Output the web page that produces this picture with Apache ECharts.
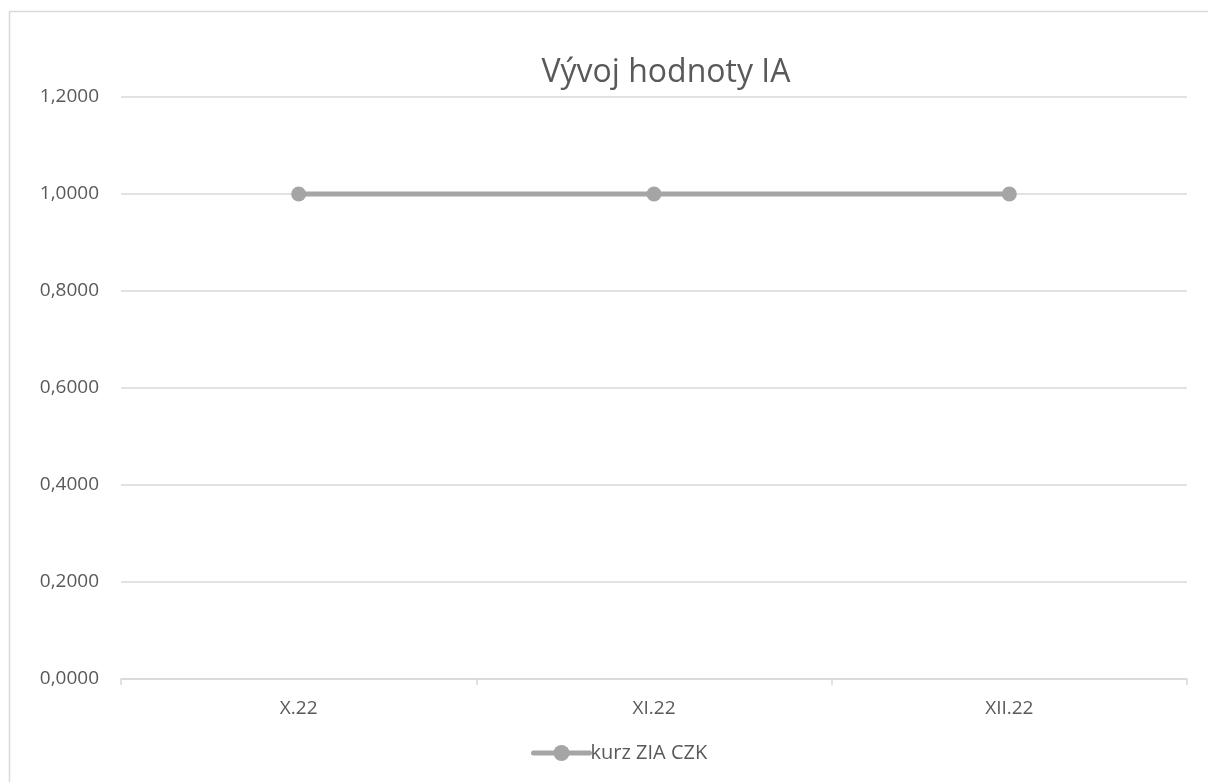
<!DOCTYPE html>
<html><head><meta charset="utf-8">
<script src="https://cdn.jsdelivr.net/npm/echarts@6/dist/echarts.min.js"></script>
<style>html,body{margin:0;padding:0;background:#fff}#c{width:1208px;height:782px}</style>
</head><body><div id="c"></div>
<script>
const categories = ['X.22', 'XI.22', 'XII.22'];
const seriesName = 'kurz ZIA CZK';
const values = [1.0, 1.0, 1.0];
const yTicks = {min: 0, max: 1.2, interval: 0.2};
const titleText = 'Vývoj hodnoty IA';

const font = 'Open Sans';
const chart = echarts.init(document.getElementById('c'));
chart.setOption({
  animation: false,
  backgroundColor: '#fff',
  graphic: [{type: 'rect', shape: {x: 9.5, y: 11.5, width: 1400, height: 1000}, style: {fill: 'none', stroke: '#d9d9d9', lineWidth: 1.5}, silent: true}],
  title: {text: titleText, left: 661, top: 52, textAlign: 'center',
    textStyle: {fontFamily: font, fontSize: 32, fontWeight: 'normal', color: '#595959'}},
  grid: {left: 121, right: 21, top: 97, bottom: 103, containLabel: false},
  legend: {bottom: 14, left: 526, itemWidth: 56, itemHeight: 20, itemGap: 4,
    lineStyle: {width: 5, cap: 'round'},
    textStyle: {fontFamily: font, fontSize: 20, color: '#595959', padding: [0, 0, 0, -4]},
    data: [{name: seriesName}]},
  xAxis: {type: 'category', data: categories, boundaryGap: true,
    axisLine: {lineStyle: {color: '#d9d9d9', width: 1.5}},
    axisTick: {show: true, length: 6, lineStyle: {color: '#d9d9d9', width: 1.5}},
    axisLabel: {fontFamily: font, fontSize: 19, color: '#595959', margin: 20}},
  yAxis: {type: 'value', min: yTicks.min, max: yTicks.max, interval: yTicks.interval,
    axisLine: {show: false}, axisTick: {show: false},
    splitLine: {lineStyle: {color: '#d9d9d9', width: 1.5}},
    axisLabel: {fontFamily: font, fontSize: 19, color: '#595959', margin: 22,
      formatter: v => v.toFixed(4).replace('.', ',')}},
  series: [{name: seriesName, type: 'line', data: values, symbol: 'circle', symbolSize: 15,
    itemStyle: {color: '#a5a5a5'}, lineStyle: {color: '#a5a5a5', width: 5}}]
});
</script></body></html>
